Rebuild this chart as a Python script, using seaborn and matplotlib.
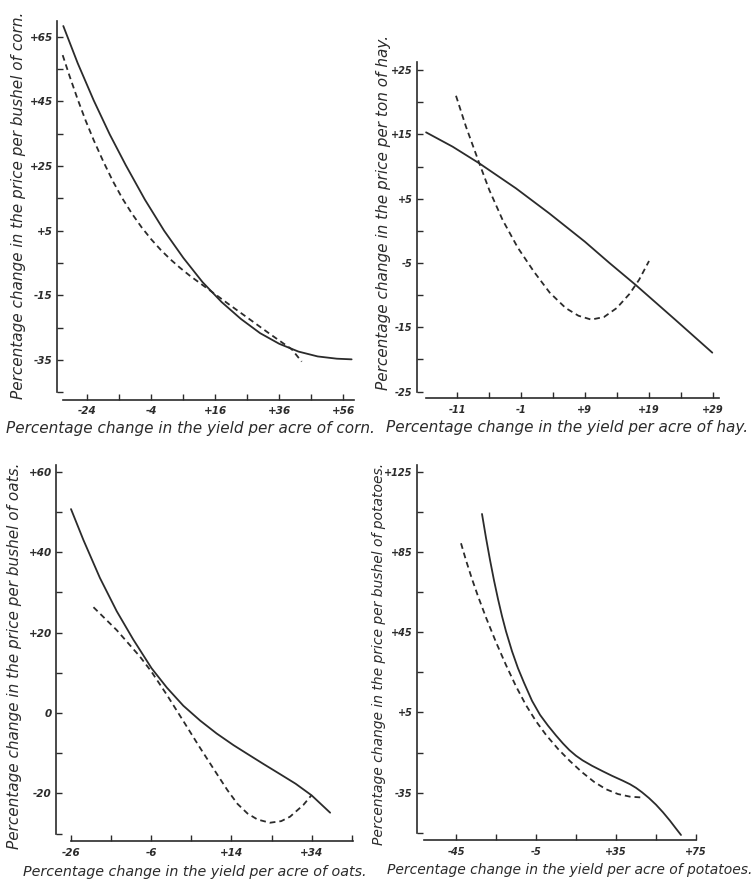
import matplotlib
matplotlib.use("Agg")
import matplotlib.pyplot as plt
from matplotlib.ticker import FixedLocator
import seaborn as sns

sns.set_theme(style="white")
plt.rcParams["font.family"] = ["DejaVu Sans"]

# ---------------- data ----------------
# Corn
corn_solid_x = [-31.5, -27.0, -22.0, -17.0, -12.0, -6.0, 0.0, 6.0, 12.0, 18.0, 24.0, 30.0, 36.0, 42.0, 48.0, 54.0, 58.6]
corn_solid_y = [68.3, 56.8, 45.3, 34.8, 25.3, 14.6, 5.0, -3.4, -10.9, -17.1, -22.3, -26.7, -30.0, -32.4, -33.9, -34.6, -34.8]
corn_dash_x = [-31.7, -29.5, -27.0, -24.5, -22.0, -19.0, -16.0, -13.0, -10.0, -7.0, -4.0, -1.0, 2.0, 5.0, 8.0, 13.8, 20.0, 27.0, 33.0, 39.9, 43.0]
corn_dash_y = [59.3, 52.7, 45.6, 39.0, 33.0, 26.4, 20.3, 14.9, 10.2, 6.0, 2.3, -1.0, -3.9, -6.5, -8.9, -13.1, -17.6, -22.6, -26.9, -31.7, -35.5]

# Hay
hay_solid_x = [-15.84, -11.68, -7.51, -1.78, 3.43, 9.0, 12.8, 16.97, 23.2, 28.95]
hay_solid_y = [15.31, 13.08, 10.49, 6.61, 2.72, -1.68, -4.95, -8.42, -13.86, -18.94]
hay_dash_x = [-11.16, -9.6, -7.51, -5.95, -3.86, -1.5, 1.0, 3.5, 6.0, 8.0, 10.0, 12.0, 14.0, 16.0, 17.5, 19.05]
hay_dash_y = [21.0, 16.2, 10.49, 6.35, 1.68, -2.6, -6.3, -9.6, -12.0, -13.2, -13.8, -13.4, -12.0, -9.8, -7.6, -4.69]

# Oats
oats_solid_x = [-26.0, -22.9, -18.8, -14.6, -10.5, -5.9, -2.1, 2.0, 6.2, 10.3, 14.5, 18.0, 22.0, 26.1, 30.0, 34.0, 38.6]
oats_solid_y = [50.7, 43.0, 33.6, 25.3, 18.3, 11.1, 6.3, 1.8, -1.9, -5.1, -8.0, -10.2, -12.7, -15.2, -17.6, -20.5, -24.8]
oats_dash_x = [-20.4, -14.6, -8.8, -5.9, -2.1, 2.0, 6.0, 10.0, 13.0, 15.5, 18.0, 20.5, 23.6, 26.4, 28.6, 31.9, 34.0]
oats_dash_y = [26.3, 20.6, 14.0, 10.2, 4.5, -2.0, -8.4, -14.6, -19.2, -22.6, -25.0, -26.5, -27.3, -26.9, -25.8, -22.9, -20.4]

# Potatoes
pot_solid_x = [-32.0, -30.0, -28.0, -26.0, -24.0, -22.0, -20.0, -17.0, -14.0, -11.0, -7.0, -3.0, 1.0, 5.0, 8.5,
               11.7, 15.0, 18.3, 23.0, 28.3, 33.0, 38.3, 42.0, 45.0, 48.0, 51.5, 55.0, 58.5, 62.0, 65.0, 67.5]
pot_solid_y = [103.9, 92.0, 81.0, 70.8, 61.5, 53.0, 45.4, 35.5, 27.0, 19.8, 10.8, 3.8, -1.6, -6.5, -10.5,
               -13.8, -16.6, -18.9, -21.6, -24.3, -26.6, -29.0, -30.8, -32.6, -34.8, -37.7, -41.0, -44.8, -49.0, -52.9, -56.1]
pot_dash_x = [-42.5, -40.0, -37.0, -34.0, -30.0, -25.0, -20.0, -15.0, -10.0, -5.0, 0.0, 6.0, 12.0, 18.0, 24.0, 30.0, 36.0, 42.0, 47.8]
pot_dash_y = [89.3, 80.8, 71.5, 62.9, 52.3, 40.0, 28.6, 18.0, 8.6, 0.6, -6.2, -13.2, -19.3, -24.8, -29.6, -33.3, -35.7, -37.0, -37.4]

# ticks
corn_xmajor = [-24, -4, 16, 36, 56]
corn_xminor = [-14, 6, 26, 46]
corn_ymajor = [65, 45, 25, 5, -15, -35]
corn_yminor = [55, 35, 15, -5, -25, -45]
hay_xmajor = [-11, -1, 9, 19, 29]
hay_xminor = [-6, 4, 14, 24]
hay_ymajor = [25, 15, 5, -5, -15, -25]
hay_yminor = [20, 10, 0, -10, -20]
oats_xmajor = [-26, -6, 14, 34]
oats_xminor = [-16, 4, 24, 44]
oats_ymajor = [60, 40, 20, 0, -20]
oats_yminor = [50, 30, 10, -10, -30]
pot_xmajor = [-45, -5, 35, 75]
pot_xminor = [-25, 15, 55]
pot_ymajor = [125, 85, 45, 5, -35]
pot_yminor = [105, 65, 25, -15, -55]


def signed(v):
    return f"+{v}" if v > 0 else f"{v}"


# ---------------- layout ----------------
W, H = 756, 882
fig = plt.figure(figsize=(W / 100, H / 100), dpi=100)
fig.patch.set_facecolor("white")
INK = "#2b2b2b"


def make_panel(rect_px, xlim, ylim, xbounds, ybounds, xmaj, xmin, ymaj, ymin,
               xlabel, ylabel, xl_pos, yl_pos, xl_size, yl_size,
               solid, dashed, tick_size=7.5):
    L, T, R, B = rect_px
    ax = fig.add_axes([L / W, 1 - B / H, (R - L) / W, (B - T) / H])
    ax.set_facecolor("white")
    sx, sy = solid
    dx, dy = dashed
    sns.lineplot(x=sx, y=sy, ax=ax, sort=False, estimator=None,
                 color=INK, linewidth=1.3)
    sns.lineplot(x=dx, y=dy, ax=ax, sort=False, estimator=None,
                 color=INK, linewidth=1.3, linestyle=(0, (3.2, 2.2)))
    ax.set_xlim(*xlim)
    ax.set_ylim(*ylim)
    for s in ["top", "right"]:
        ax.spines[s].set_visible(False)
    for s in ["left", "bottom"]:
        ax.spines[s].set_color(INK)
        ax.spines[s].set_linewidth(1.2)
    ax.spines["left"].set_bounds(*ybounds)
    ax.spines["bottom"].set_bounds(*xbounds)
    ax.xaxis.set_major_locator(FixedLocator(xmaj))
    ax.xaxis.set_minor_locator(FixedLocator(xmin))
    ax.yaxis.set_major_locator(FixedLocator(ymaj))
    ax.yaxis.set_minor_locator(FixedLocator(ymin))
    ax.set_xticklabels([signed(v) for v in xmaj])
    ax.set_yticklabels([signed(v) for v in ymaj])
    ax.tick_params(which="both", direction="in", length=4, width=1.0,
                   color=INK, left=True, bottom=True)
    ax.tick_params(axis="y", which="major", pad=3, labelsize=tick_size, labelcolor=INK)
    ax.tick_params(axis="x", which="major", pad=5, labelsize=tick_size, labelcolor=INK)
    for t in ax.get_xticklabels() + ax.get_yticklabels():
        t.set_fontstyle("italic")
        t.set_fontweight("bold")
    ax.set_xlabel(xlabel, fontsize=xl_size, fontstyle="italic", color=INK)
    ax.set_ylabel(ylabel, fontsize=yl_size, fontstyle="italic", color=INK)
    ax.xaxis.label.set_va("center")
    ax.yaxis.label.set_va("center")
    ax.xaxis.set_label_coords(*xl_pos)
    ax.yaxis.set_label_coords(*yl_pos)
    ax.grid(False)
    return ax


# Corn
make_panel((57, 18, 356, 399.5), (-33.47, 59.97), (-47.22, 70.78),
           (-31.6, 59.3), (-45, 69.9),
           corn_xmajor, corn_xminor, corn_ymajor, corn_yminor,
           "Percentage change in the yield per acre of corn.",
           "Percentage change in the price per bushel of corn.",
           (0.445, -0.075), (-0.13, 0.51), 11, 11,
           (corn_solid_x, corn_solid_y), (corn_dash_x, corn_dash_y))

# Hay
make_panel((416.7, 58, 722, 398), (-17.31, 30.47), (-25.99, 26.87),
           (-15.85, 30.05), (-25, 26.3),
           hay_xmajor, hay_xminor, hay_ymajor, hay_yminor,
           "Percentage change in the yield per acre of hay.",
           "Percentage change in the price per ton of hay.",
           (0.492, -0.088), (-0.108, 0.545), 11, 11,
           (hay_solid_x, hay_solid_y), (hay_dash_x, hay_dash_y), tick_size=7)

# Oats
make_panel((56, 462, 356, 841), (-29.74, 45.05), (-31.84, 62.41),
           (-26, 44.2), (-30, 61.7),
           oats_xmajor, oats_xminor, oats_ymajor, oats_yminor,
           "Percentage change in the yield per acre of oats.",
           "Percentage change in the price per bushel of oats.",
           (0.463, -0.082), (-0.137, 0.49), 10.3, 11,
           (oats_solid_x, oats_solid_y), (oats_dash_x, oats_dash_y))

# Potatoes
make_panel((416.7, 462, 700, 840), (-64.65, 77.0), (-58.6, 129.8),
           (-60.8, 75), (-55, 128.3),
           pot_xmajor, pot_xminor, pot_ymajor, pot_yminor,
           "Percentage change in the yield per acre of potatoes.",
           "Percentage change in the price per bushel of potatoes.",
           (0.541, -0.079), (-0.134, 0.493), 10, 10,
           (pot_solid_x, pot_solid_y), (pot_dash_x, pot_dash_y), tick_size=7)

fig.savefig("out.png", dpi=100, facecolor="white")
